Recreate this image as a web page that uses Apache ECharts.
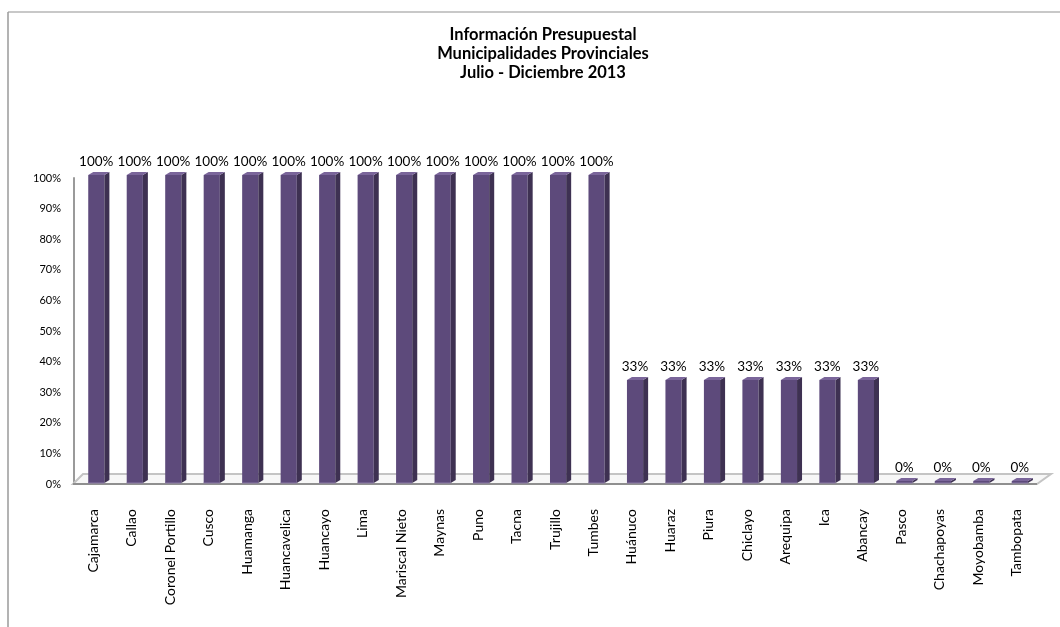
<!DOCTYPE html>
<html>
<head>
<meta charset="utf-8">
<title>Información Presupuestal</title>
<script src="https://cdn.jsdelivr.net/npm/echarts/dist/echarts.min.js"></script>
<style>
  html, body { margin: 0; padding: 0; background: #fff; }
  #chart { width: 1060px; height: 627px; }
</style>
</head>
<body>
<div id="chart"></div>
<script>
// datos del grafico
const municipios = [
  'Cajamarca', 'Callao', 'Coronel Portillo', 'Cusco', 'Huamanga', 'Huancavelica',
  'Huancayo', 'Lima', 'Mariscal Nieto', 'Maynas', 'Puno', 'Tacna', 'Trujillo',
  'Tumbes', 'Huánuco', 'Huaraz', 'Piura', 'Chiclayo', 'Arequipa', 'Ica',
  'Abancay', 'Pasco', 'Chachapoyas', 'Moyobamba', 'Tambopata'
]
const cumplimiento = [
  1, 1, 1, 1, 1, 1, 1, 1, 1, 1, 1, 1, 1, 1,
  0.33, 0.33, 0.33, 0.33, 0.33, 0.33, 0.33,
  0, 0, 0, 0
]
const tituloLineas = [
  'Información Presupuestal',
  'Municipalidades Provinciales',
  'Julio - Diciembre 2013'
]

const chart = echarts.init(document.getElementById('chart'), null, { renderer: 'canvas' })

const FRONT = '#5d4a7b'
const SIDE = '#3e3152'
const TOP = '#7a659a'

// barra "3D": cara frontal, lateral y superior
function renderBar(params, api) {
  const i = api.value(0)
  const v = api.value(1)
  const base = api.coord([i, 0])
  const top = api.coord([i, v])
  const band = api.size([1, 0])[0]
  const c = base[0]
  const x0 = c - band * 0.13
  const x1 = c + band * 0.29
  const dx = 5, dy = 3
  const yb = base[1] - 1
  const yt = top[1] - 3
  return {
    type: 'group',
    children: [
      { type: 'polygon', shape: { points: [[x0, yt], [x1, yt], [x1, yb], [x0, yb]] }, style: { fill: FRONT } },
      { type: 'polygon', shape: { points: [[x1, yt], [x1 + dx, yt - dy], [x1 + dx, yb - dy], [x1, yb]] }, style: { fill: SIDE } },
      { type: 'polygon', shape: { points: [[x0, yt], [x1, yt], [x1 + dx, yt - dy], [x0 + dx, yt - dy]] }, style: { fill: TOP } },
      { type: 'line', shape: { x1: x0, y1: yb, x2: x1, y2: yb }, style: { stroke: '#8a78a6', lineWidth: 1 } },
      {
        type: 'text',
        x: c + 3,
        y: top[1] - 16,
        style: {
          text: Math.round(v * 100) + '%',
          textAlign: 'center',
          textVerticalAlign: 'middle',
          font: '13.5px Lato',
          fill: '#000'
        }
      }
    ]
  }
}

// piso gris del grafico
function renderFloor(params, api) {
  const cs = params.coordSys
  const left = cs.x - 1
  const right = cs.x + cs.width + 1
  const yf = cs.y + cs.height
  const d = 10
  return {
    type: 'group',
    children: [
      {
        type: 'polygon',
        shape: { points: [[left, yf], [right, yf], [right + d + 4, yf - d], [left + d, yf - d]] },
        style: { fill: '#f7f7f7', stroke: '#c4c4c4', lineWidth: 2 }
      },
      { type: 'line', shape: { x1: left, y1: yf, x2: right, y2: yf }, style: { stroke: '#8f8f8f', lineWidth: 2 } }
    ]
  }
}

const option = {
  backgroundColor: '#fff',
  animation: false,
  textStyle: { fontFamily: 'Lato' },
  title: {
    text: tituloLineas.join('\n'),
    left: 538,
    top: 20,
    textAlign: 'center',
    textStyle: { fontSize: 16.5, fontWeight: 'bold', color: '#000', lineHeight: 19, fontFamily: 'Lato' }
  },
  grid: { left: 74, right: 24, top: 178, bottom: 143 },
  xAxis: {
    type: 'category',
    data: municipios,
    axisLine: { show: false },
    axisTick: { show: false },
    axisLabel: { rotate: 90, margin: 25, fontSize: 14, color: '#000', interval: 0 }
  },
  yAxis: {
    type: 'value',
    min: 0,
    max: 1,
    interval: 0.1,
    splitLine: { show: false },
    axisTick: { show: false },
    axisLine: { show: true, lineStyle: { color: '#9a9a9a', width: 2 } },
    axisLabel: {
      margin: 13,
      fontSize: 11,
      color: '#000',
      formatter: (val) => Math.round(val * 100) + '%'
    }
  },
  graphic: [
    { type: 'line', shape: { x1: 8, y1: 12, x2: 1060, y2: 12 }, style: { stroke: '#c8c8c8', lineWidth: 2 } },
    { type: 'line', shape: { x1: 8, y1: 12, x2: 8, y2: 627 }, style: { stroke: '#9a9a9a', lineWidth: 1.5 } }
  ],
  series: [
    {
      type: 'custom',
      renderItem: renderFloor,
      data: [[0, 0]],
      silent: true,
      z: 1
    },
    {
      type: 'custom',
      renderItem: renderBar,
      encode: { x: 0, y: 1 },
      data: cumplimiento.map((v, i) => [i, v]),
      z: 2
    }
  ]
}

chart.setOption(option)
</script>
</body>
</html>
